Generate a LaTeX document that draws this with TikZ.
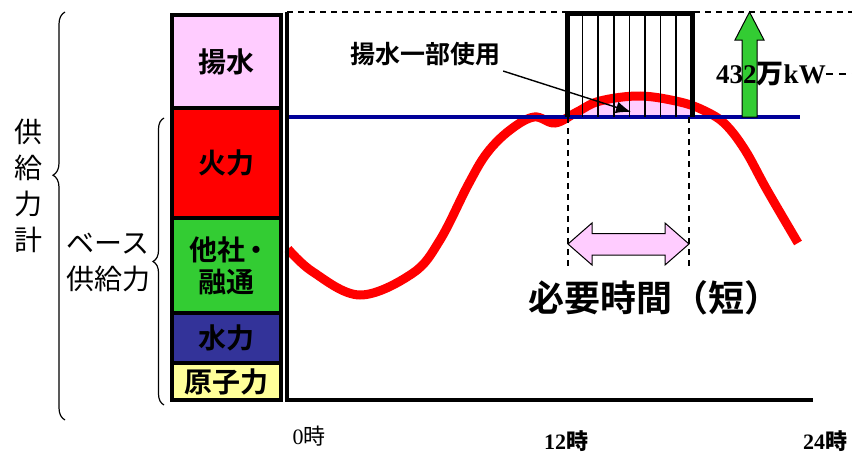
\documentclass[tikz,border=0pt]{standalone}
\usepackage{fontspec}
\setmainfont{Liberation Serif}
\newfontfamily\jp{Noto Sans CJK JP}
\newfontfamily\jpb{Noto Sans CJK JP Bold}
\usetikzlibrary{arrows.meta,decorations.pathreplacing}
\pgfdeclarelayer{nodelayer}
\pgfdeclarelayer{edgelayer}
\pgfsetlayers{edgelayer,nodelayer,main}
\definecolor{pumppink}{RGB}{255,204,255}
\definecolor{othergreen}{RGB}{51,204,51}
\definecolor{hydroblue}{RGB}{51,51,153}
\definecolor{nuclearyellow}{RGB}{255,255,153}
\definecolor{limitblue}{RGB}{0,0,153}
\tikzstyle{supply box}=[draw=black, line width=4pt, minimum width=109pt, inner sep=0pt, align=center, font=\jpb\fontsize{28}{32}\selectfont]
\tikzstyle{side label}=[align=center, inner sep=0pt, font=\jp\fontsize{28}{36}\selectfont]
\tikzstyle{tick label}=[inner sep=0pt, font=\fontsize{22}{24}\selectfont]
\tikzstyle{none}=[inner sep=0pt, minimum size=0pt]
\tikzstyle{axis edge}=[draw=black, line width=4pt]
\tikzstyle{dash edge}=[draw=black, line width=1.3pt, dash pattern=on 6pt off 5pt]
\tikzstyle{hatch edge}=[draw=black, line width=1.6pt]
\tikzstyle{brace edge}=[draw=black, line width=1.2pt, decorate]
\def\demandpts{(288,249) (313,272) (360,295) (413,273) (440,240) (468,185) (487,153) (510,130) (534,117) (555,123) (577,112) (600,101) (640,96) (680,102) (705,111) (725,124) (745,150) (767,190) (798,243)}

\begin{document}
\begin{tikzpicture}[x=1pt, y=-1pt]
	\useasboundingbox (0,0) rectangle (852,455);
	\begin{pgfonlayer}{nodelayer}
		\node [style=supply box, fill=pumppink, minimum height=93pt] (pump) at (226.5,61.5) {揚水};
		\node [style=supply box, fill=red, minimum height=110pt] (thermal) at (226.5,163) {火力};
		\node [style=supply box, fill=othergreen, minimum height=95pt] (other) at (226.5,265.5) {他社\kern-3pt・\kern-6pt\\融通};
		\node [style=supply box, fill=hydroblue, minimum height=50pt] (hydro) at (226.5,338) {水力};
		\node [style=supply box, fill=nuclearyellow, minimum height=37pt] (nuclear) at (226.5,381.5) {原子力};
		\node [style=side label] (total) at (29,186) {供\\給\\力\\計};
		\node [style=side label] (base) at (108,262) {ベース\\供給力};
		\node [style=none, font=\jpb\fontsize{25}{27}\selectfont] (partuse) at (425,54) {揚水一部使用};
		\node [style=none, font=\jpb\fontsize{36}{40}\selectfont] (needtime) at (654,298) {必要時間（短）};
		\node [style=none, font=\bfseries\fontsize{27}{30}\selectfont] (margin) at (771,74) {432{\jpb 万}kW};
		\node [style=tick label] (t0) at (309,436) {0{\jp 時}};
		\node [style=tick label] (t12) at (566,441) {\bfseries 12{\jp 時}};
		\node [style=tick label] (t24) at (825,441) {\bfseries 24{\jp 時}};
		\coordinate (origin) at (287,400);
		\coordinate (axistop) at (287,12);
		\coordinate (axisend) at (813,400);
		\coordinate (topend) at (852,12);
		\coordinate (limitend) at (800,117);
		\coordinate (limitstart) at (287,117);
		\coordinate (headpoint) at (631,112);
	\end{pgfonlayer}
	\begin{pgfonlayer}{edgelayer}
		% pumped storage used above the limit
		\begin{scope}
			\clip (567,12) rectangle (692,117);
			\fill [pumppink] plot [smooth, tension=0.6] coordinates {\demandpts} -- cycle;
		\end{scope}
		\draw [red, line width=9pt] plot [smooth, tension=0.6] coordinates {\demandpts};
		\draw [limitblue, line width=3.5pt] (limitstart) to (limitend);
		\foreach \i in {1,...,7}
			\draw [style=hatch edge] (567+\i*15.6,13) to (567+\i*15.6,117);
		\draw [draw=black, line width=5pt] (567,117) -- (567,13) -- (692,13) -- (692,117);
		\draw [style=dash edge] (axistop) to (topend);
		\draw [style=dash edge] (568,117) to (568,266);
		\draw [style=dash edge] (689,117) to (689,266);
		\draw [style=dash edge, dash pattern=on 7pt off 6pt] (margin.east) to (852,74);
		\draw [style=axis edge] (axistop) to (origin) to (axisend);
		\draw [fill=othergreen, draw=black, line width=1pt] (742,117) -- (742,40) -- (735,40) -- (749.5,12) -- (764,40) -- (757,40) -- (757,117) -- cycle;
		\draw [fill=pumppink, draw=black, line width=1pt] (568,244) -- (592,223) -- (592,233.5) -- (665,233.5) -- (665,223) -- (689,244) -- (665,265) -- (665,255) -- (592,255) -- (592,265) -- cycle;
		\draw [style=brace edge, decoration={brace, amplitude=12pt, aspect=0.6}] (65,420) to (65,12);
		\draw [style=brace edge, decoration={brace, amplitude=11pt, aspect=0.5}] (164,405) to (164,118);
	\end{pgfonlayer}
	\draw [draw=black, line width=1.4pt, -{Latex[length=15pt, width=12pt]}] ([shift={(3,5)}]partuse.south east) to (headpoint);
\end{tikzpicture}
\end{document}
